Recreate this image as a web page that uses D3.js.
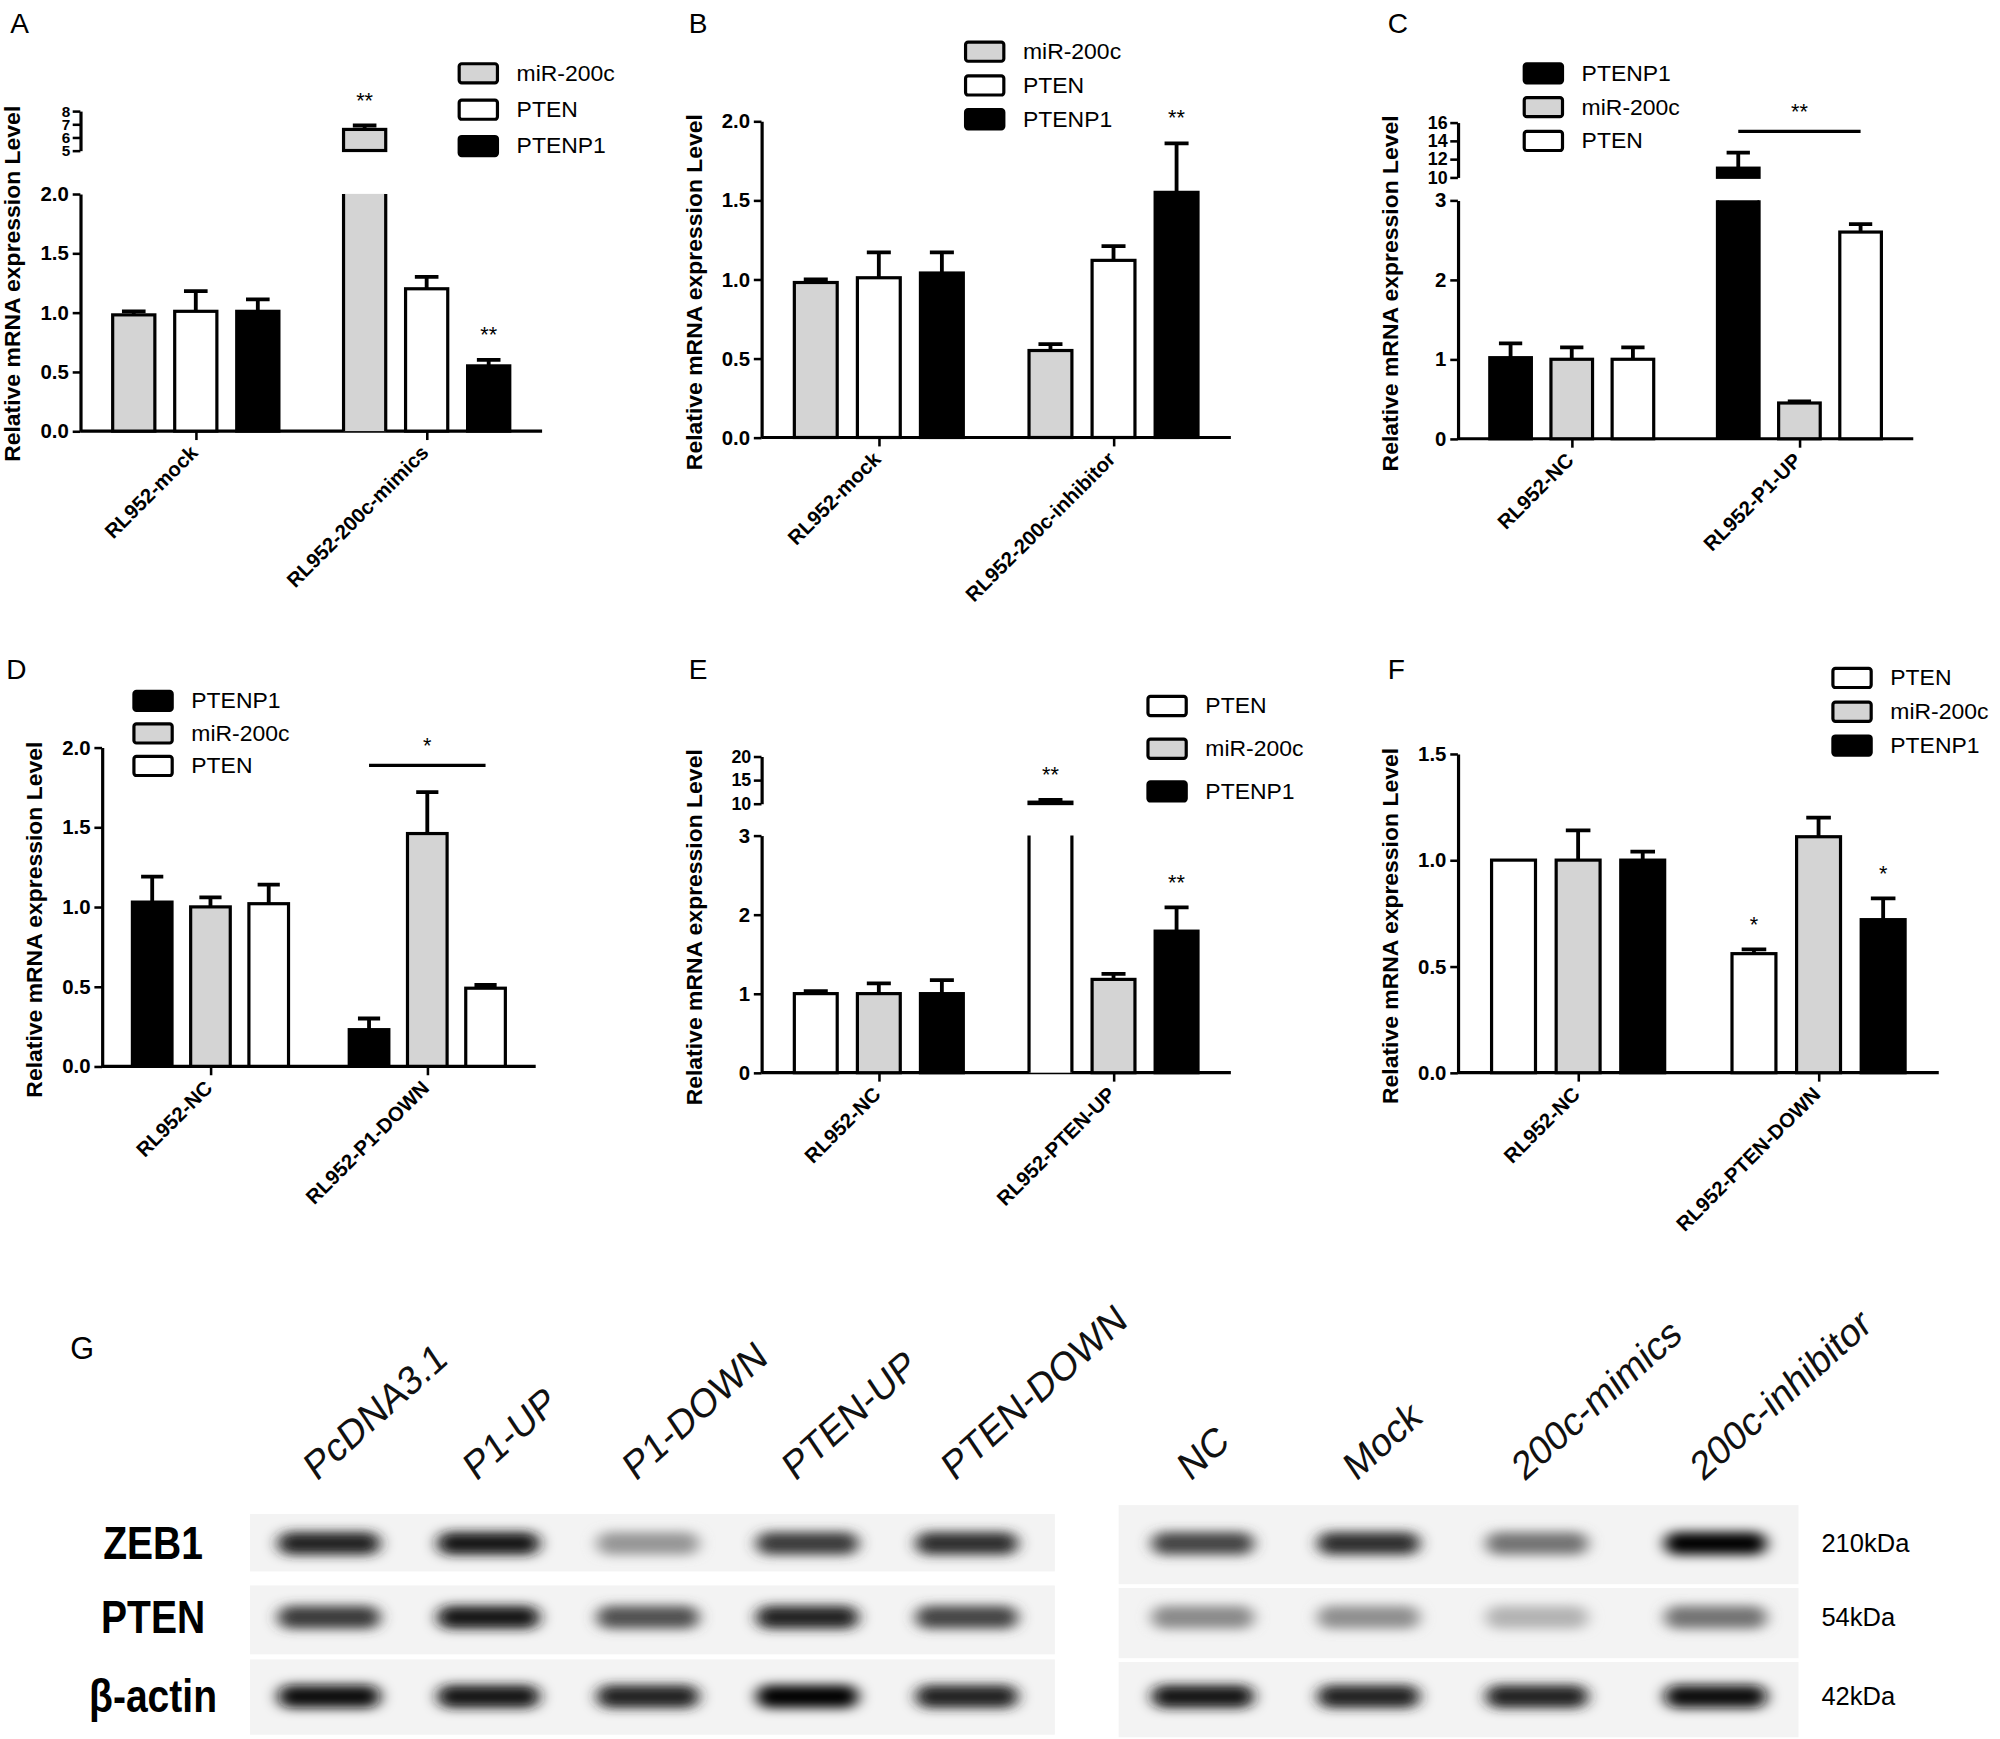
<!DOCTYPE html>
<html><head><meta charset="utf-8">
<script src="https://cdn.jsdelivr.net/npm/d3@7"></script>
<style>body{margin:0;background:#fff}text{font-family:Arial,"Liberation Sans",sans-serif}</style>
</head><body><div id="chart"></div>
<script>
// series colours
const fills = {"miR-200c": "#d4d4d4", PTEN: "#fff", PTENP1: "#000"};

// qPCR panels
const seriesA = ["miR-200c", "PTEN", "PTENP1"];
const groupsA = ["RL952-mock", "RL952-200c-mimics"];
const valuesA = [[0.98, 1.01, 1.01], [6.6, 1.2, 0.55]];
const errorsA = [[0.03, 0.17, 0.1], [0.3, 0.1, 0.05]];

const seriesB = ["miR-200c", "PTEN", "PTENP1"];
const groupsB = ["RL952-mock", "RL952-200c-inhibitor"];
const valuesB = [[0.98, 1.01, 1.04], [0.55, 1.12, 1.55]];
const errorsB = [[0.02, 0.16, 0.13], [0.04, 0.09, 0.31]];

const seriesC = ["PTENP1", "miR-200c", "PTEN"];
const groupsC = ["RL952-NC", "RL952-P1-UP"];
const valuesC = [[1.02, 1.0, 1.0], [11.0, 0.45, 2.6]];
const errorsC = [[0.18, 0.15, 0.15], [1.7, 0.02, 0.1]];

const seriesD = ["PTENP1", "miR-200c", "PTEN"];
const groupsD = ["RL952-NC", "RL952-P1-DOWN"];
const valuesD = [[1.03, 1.0, 1.02], [0.23, 1.46, 0.49]];
const errorsD = [[0.16, 0.06, 0.12], [0.07, 0.26, 0.02]];

const seriesE = ["PTEN", "miR-200c", "PTENP1"];
const groupsE = ["RL952-NC", "RL952-PTEN-UP"];
const valuesE = [[1.0, 1.0, 1.0], [10.3, 1.18, 1.79]];
const errorsE = [[0.03, 0.13, 0.17], [0.5, 0.07, 0.3]];

const seriesF = ["PTEN", "miR-200c", "PTENP1"];
const groupsF = ["RL952-NC", "RL952-PTEN-DOWN"];
const valuesF = [[1.0, 1.0, 1.0], [0.56, 1.11, 0.72]];
const errorsF = [[0, 0.14, 0.04], [0.02, 0.09, 0.1]];

// western blot
const blotRows = ["ZEB1", "PTEN", "β-actin"];
const blotKDa = ["210kDa", "54kDa", "42kDa"];
const lanesLeft = ["PcDNA3.1", "P1-UP", "P1-DOWN", "PTEN-UP", "PTEN-DOWN"];
const lanesRight = ["NC", "Mock", "200c-mimics", "200c-inhibitor"];
const intensLeft = [[0.85, 0.9, 0.35, 0.75, 0.8], [0.75, 0.9, 0.65, 0.85, 0.7], [0.95, 0.9, 0.85, 1.0, 0.85]];
const intensRight = [[0.7, 0.8, 0.5, 1.0], [0.4, 0.38, 0.22, 0.5], [0.9, 0.85, 0.85, 0.95]];

const panels = [
  {L: "A", lx: 8, ly: 18, x0: 63, x1: 425, y0: 338, lo: [0, 2, 152], loTicks: [0, 0.5, 1, 1.5, 2], fmt: ".1f",
   hi: [5, 8, 118, 87], hiTicks: [5, 6, 7, 8], hiFont: 12, series: seriesA, groups: groupsA, values: valuesA, errors: errorsA,
   legend: [360, 57, 28.5], stars: [[1, 0, "**"], [1, 2, "**"]]},
  {L: "B", lx: 540, ly: 18, x0: 597, x1: 965, y0: 343, lo: [0, 2, 95], loTicks: [0, 0.5, 1, 1.5, 2], fmt: ".1f",
   series: seriesB, groups: groupsB, values: valuesB, errors: errorsB, legend: [757, 40, 26.5], stars: [[1, 2, "**"]]},
  {L: "C", lx: 1088, ly: 18, x0: 1143, x1: 1500, y0: 344, lo: [0, 3, 157], loTicks: [0, 1, 2, 3], fmt: "d",
   hi: [10, 16, 139, 96], hiTicks: [10, 12, 14, 16], hiFont: 14, series: seriesC, groups: groupsC, values: valuesC, errors: errorsC,
   legend: [1195, 57, 26.5], line: [103, "**"]},
  {L: "D", lx: 5, ly: 525, x0: 80, x1: 420, y0: 836, lo: [0, 2, 586], loTicks: [0, 0.5, 1, 1.5, 2], fmt: ".1f",
   series: seriesD, groups: groupsD, values: valuesD, errors: errorsD, legend: [105, 549, 25.5], line: [600, "*"]},
  {L: "E", lx: 540, ly: 525, x0: 597, x1: 965, y0: 841, lo: [0, 3, 655], loTicks: [0, 1, 2, 3], fmt: "d",
   hi: [10, 20, 630, 593], hiTicks: [10, 15, 20], hiFont: 14, series: seriesE, groups: groupsE, values: valuesE, errors: errorsE,
   legend: [900, 553, 33.5], stars: [[1, 0, "**"], [1, 2, "**"]]},
  {L: "F", lx: 1088, ly: 525, x0: 1143, x1: 1520, y0: 841, lo: [0, 1.5, 591], loTicks: [0, 0.5, 1, 1.5], fmt: ".1f",
   series: seriesF, groups: groupsF, values: valuesF, errors: errorsF, legend: [1437, 531, 26.5], stars: [[1, 0, "*"], [1, 2, "*"]]}
];

const svg = d3.select("#chart").append("svg").attr("width", 2000).attr("height", 1739);
const root = svg.append("g").attr("transform", `scale(${2000 / 1568})`);

panels.forEach(p => {
  const g = root.append("g");
  g.append("text").attr("x", p.lx).attr("y", p.ly).attr("dy", "0.35em").attr("font-size", 22).text(p.L);
  const yLo = d3.scaleLinear().domain([p.lo[0], p.lo[1]]).range([p.y0, p.lo[2]]);
  const yHi = p.hi ? d3.scaleLinear().domain([p.hi[0], p.hi[1]]).range([p.hi[2], p.hi[3]]) : null;
  const y = v => (yHi && v >= p.hi[0]) ? yHi(v) : yLo(Math.min(v, p.lo[1]));
  const len = p.x1 - p.x0;
  const xG = d3.scalePoint().domain(p.groups).range([p.x0, p.x1]).padding(0.5);
  const xS = d3.scaleBand().domain(p.series).range([-0.18 * len, 0.18 * len]).paddingInner(0.32);
  const bw = xS.bandwidth();

  // axes
  g.append("g").attr("transform", `translate(${p.x0},0)`)
    .call(d3.axisLeft(yLo).tickValues(p.loTicks).tickFormat(d3.format(p.fmt)).tickSize(6).tickSizeOuter(0));
  if (yHi) g.append("g").attr("class", "hi").attr("transform", `translate(${p.x0},0)`)
    .call(d3.axisLeft(yHi).tickValues(p.hiTicks).tickFormat(d3.format("d")).tickSize(6).tickSizeOuter(0).tickPadding(2));
  g.selectAll(".domain").attr("stroke-width", 2.5).attr("stroke", "#000");
  g.selectAll(".tick line").attr("stroke-width", 2);
  g.selectAll(".tick text").attr("font-size", 16).attr("font-weight", "bold").attr("font-family", "Arial");
  if (yHi) g.selectAll(".hi .tick text").attr("font-size", p.hiFont);
  const xa = g.append("g").attr("transform", `translate(0,${p.y0})`)
    .call(d3.axisBottom(xG).tickSize(7).tickSizeOuter(0));
  xa.select(".domain").attr("stroke-width", 2.5).attr("d", `M${p.x0},0H${p.x1}`);
  xa.selectAll(".tick line").attr("stroke-width", 2);
  xa.selectAll(".tick text").attr("font-size", 16).attr("font-weight", "bold").attr("font-family", "Arial")
    .attr("text-anchor", "end").attr("transform", "translate(-2,14) rotate(-45)").attr("dy", "0.35em").attr("dx", 0).attr("y", 0);

  g.append("text").attr("transform", `translate(${p.x0 - 47},${(p.y0 + (p.hi ? p.hi[3] : p.lo[2])) / 2 + 10}) rotate(-90)`)
    .attr("text-anchor", "middle").attr("font-size", 18).attr("font-weight", "bold").text("Relative mRNA expression Level");

  // bars
  p.groups.forEach((grp, gi) => {
    p.series.forEach((s, si) => {
      const v = p.values[gi][si], e = p.errors[gi][si];
      const cx = xG(grp) + xS(s) + bw / 2, x = cx - bw / 2;
      const bar = g.append("g");
      if (yHi && v > p.lo[1]) {
        bar.append("rect").attr("x", x).attr("y", yLo(p.lo[1])).attr("width", bw).attr("height", p.y0 - yLo(p.lo[1]))
          .attr("fill", fills[s]).attr("stroke", "none");
        bar.append("path").attr("d", `M${x},${p.y0}V${yLo(p.lo[1])}M${x + bw},${yLo(p.lo[1])}V${p.y0}`)
          .attr("stroke", "#000").attr("stroke-width", 2.5);
        bar.append("rect").attr("x", x).attr("y", yHi(v)).attr("width", bw).attr("height", yHi(p.hi[0]) - yHi(v))
          .attr("fill", fills[s]).attr("stroke", "#000").attr("stroke-width", 2.5);
      } else {
        bar.append("rect").attr("x", x).attr("y", y(v)).attr("width", bw).attr("height", p.y0 - y(v))
          .attr("fill", fills[s]).attr("stroke", "#000").attr("stroke-width", 2.5);
      }
      if (e > 0) {
        const cw = bw * 0.28;
        bar.append("path").attr("d", `M${cx},${y(v)}V${y(v + e)}M${cx - cw},${y(v + e)}H${cx + cw}`)
          .attr("stroke", "#000").attr("stroke-width", 3);
      }
    });
  });

  (p.stars || []).forEach(([gi, si, t]) => {
    const cx = xG(p.groups[gi]) + xS(p.series[si]) + bw / 2;
    const v = p.values[gi][si] + p.errors[gi][si];
    g.append("text").attr("x", cx).attr("y", y(v) - 14).attr("text-anchor", "middle").attr("font-size", 17).text(t);
  });
  if (p.line) {
    const xa1 = xG(p.groups[1]) + xS(p.series[0]) + bw / 2, xb = xG(p.groups[1]) + xS(p.series[2]) + bw / 2;
    g.append("path").attr("d", `M${xa1},${p.line[0]}H${xb}`).attr("stroke", "#000").attr("stroke-width", 2.5);
    g.append("text").attr("x", (xa1 + xb) / 2).attr("y", p.line[0] - 10).attr("text-anchor", "middle").attr("font-size", 17).text(p.line[1]);
  }

  // legend
  const [lx, ly, ld] = p.legend;
  p.series.forEach((s, i) => {
    g.append("rect").attr("x", lx).attr("y", ly + i * ld - 7).attr("width", 30).attr("height", 15).attr("rx", 2)
      .attr("fill", fills[s]).attr("stroke", "#000").attr("stroke-width", 2.5);
    g.append("text").attr("x", lx + 45).attr("y", ly + i * ld).attr("dy", "0.35em").attr("font-size", 18).text(s);
  });
});

// panel G: western blot
const G = root.append("g");
G.append("text").attr("x", 55).attr("y", 1057).attr("dy", "0.35em").attr("font-size", 24).text("G");
const defs = svg.append("defs");
defs.append("filter").attr("id", "blur").attr("x", "-50%").attr("y", "-100%").attr("width", "200%").attr("height", "300%")
  .append("feGaussianBlur").attr("stdDeviation", "6 4");
const rowY = [1210, 1268, 1330];
const blocks = [
  {lanes: lanesLeft, inten: intensLeft, x: [196, 827], cx: [258, 383, 508, 633, 758], rows: [[1187, 1232], [1243, 1297], [1301, 1360]]},
  {lanes: lanesRight, inten: intensRight, x: [877, 1410], cx: [943, 1073, 1205, 1345], rows: [[1180, 1242], [1245, 1300], [1303, 1362]]}
];
const shade = d3.scaleLinear().domain([0, 1]).range(["#e6e6e6", "#000"]);
blocks.forEach(b => {
  b.rows.forEach((r, ri) => {
    G.append("rect").attr("x", b.x[0]).attr("y", r[0]).attr("width", b.x[1] - b.x[0]).attr("height", r[1] - r[0]).attr("fill", "#f3f3f3");
    b.inten[ri].forEach((v, li) => {
      G.append("rect").attr("x", b.cx[li] - 40).attr("y", rowY[ri] - 9).attr("width", 80).attr("height", 18).attr("rx", 9)
        .attr("fill", shade(v)).attr("filter", "url(#blur)");
    });
  });
  b.lanes.forEach((l, li) => {
    G.append("text").attr("transform", `translate(${b.cx[li] - 10},1162) rotate(-42) skewX(-8)`)
      .attr("font-size", 30).attr("fill", "#111").text(l);
  });
});
blotRows.forEach((r, i) => {
  G.append("text").attr("x", 120).attr("y", rowY[i]).attr("dy", "0.35em").attr("text-anchor", "middle")
    .attr("font-size", 36).attr("font-weight", "bold").attr("font-family", "'Liberation Sans Narrow',Arial")
    .attr("transform", `translate(120,${rowY[i]}) scale(0.85,1) translate(-120,${-rowY[i]})`).text(r);
  G.append("text").attr("x", 1428).attr("y", rowY[i]).attr("dy", "0.35em").attr("font-size", 20)
    .attr("font-family", "'Liberation Sans Narrow',Arial").text(blotKDa[i]);
});
</script></body></html>
